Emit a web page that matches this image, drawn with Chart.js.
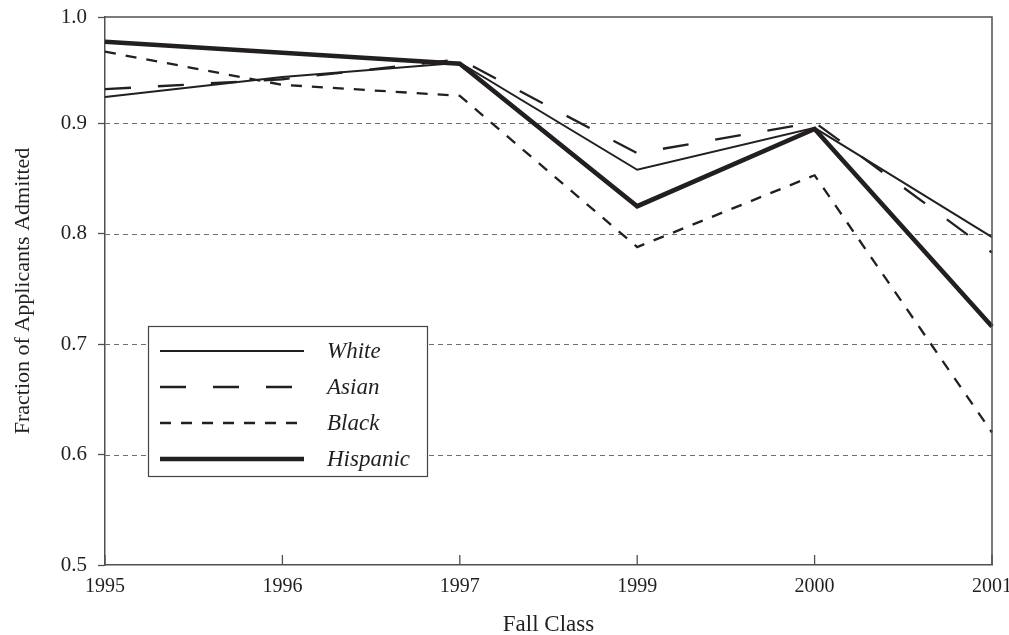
<!DOCTYPE html>
<html>
<head>
<meta charset="utf-8">
<script src="https://cdn.jsdelivr.net/npm/chart.js@4.4.1/dist/chart.umd.min.js"></script>
<style>
  html, body { margin: 0; padding: 0; background: #ffffff; }
  #wrap { position: relative; width: 1009px; height: 635px; }
</style>
</head>
<body>
<div id="wrap"><canvas id="c"></canvas></div>
<script>
// ---- data ----
const categories = ['1995', '1996', '1997', '1999', '2000', '2001'];
const seriesNames = ['White', 'Asian', 'Black', 'Hispanic'];
const whiteValues    = [0.924, 0.942, 0.955, 0.858, 0.896, 0.797];
const asianValues    = [0.931, 0.940, 0.958, 0.873, 0.901, 0.783];
const blackValues    = [0.965, 0.935, 0.925, 0.788, 0.853, 0.620];
const hispanicValues = [0.974, 0.964, 0.954, 0.825, 0.895, 0.716];
const yTickValues = [0.5, 0.6, 0.7, 0.8, 0.9, 0.9964];
const yTickLabels = ['0.5', '0.6', '0.7', '0.8', '0.9', '1.0'];
const gridValues = [0.6, 0.7, 0.8, 0.9];
const xTitle = 'Fall Class';
const yTitle = 'Fraction of Applicants Admitted';

const INK = '#231f20';
const AXIS = '#505050';
const SERIF = '"Liberation Serif", "Times New Roman", serif';

const styles = [
  { width: 2.0, dash: [] },
  { width: 2.3, dash: [26, 27] },
  { width: 2.3, dash: [11, 10] },
  { width: 4.6, dash: [] }
];
const seriesValues = [whiteValues, asianValues, blackValues, hispanicValues];

const datasets = seriesNames.map((name, i) => ({
  label: name,
  data: seriesValues[i],
  borderColor: INK,
  backgroundColor: INK,
  borderWidth: styles[i].width,
  borderDash: styles[i].dash,
  borderJoinStyle: 'miter',
  borderCapStyle: 'butt',
  pointRadius: 0,
  tension: 0,
  fill: false
})).reverse();

const decorPlugin = {
  id: 'decor',
  beforeDatasetsDraw(chart) {
    const { ctx, chartArea: a, scales } = chart;
    const y = scales.y;
    ctx.save();
    ctx.strokeStyle = '#6e6e6e';
    ctx.lineWidth = 1.1;
    ctx.setLineDash([5, 4]);
    gridValues.forEach(v => {
      const py = Math.round(y.getPixelForValue(v)) + 0.5;
      ctx.beginPath();
      ctx.moveTo(a.left, py);
      ctx.lineTo(a.right, py);
      ctx.stroke();
    });
    ctx.restore();
  },
  afterDatasetsDraw(chart) {
    const { ctx, chartArea: a, scales } = chart;
    const x = scales.x;
    ctx.save();
    ctx.strokeStyle = AXIS;
    ctx.lineWidth = 1.5;
    ctx.setLineDash([]);
    ctx.beginPath();
    ctx.moveTo(a.left, a.top);
    ctx.lineTo(a.right, a.top);
    ctx.lineTo(a.right, a.bottom);
    ctx.stroke();
    ctx.lineWidth = 1.3;
    categories.forEach((c, i) => {
      const px = x.getPixelForTick(i);
      ctx.beginPath();
      ctx.moveTo(px, a.bottom);
      ctx.lineTo(px, a.bottom - 10);
      ctx.stroke();
    });
    ctx.restore();
  },
  afterDraw(chart) {
    const { ctx } = chart;
    const box = { left: 148.5, top: 326.5, right: 427.5, bottom: 476.5 };
    const rows = [351, 387, 423, 459];
    ctx.save();
    ctx.fillStyle = '#ffffff';
    ctx.fillRect(box.left, box.top, box.right - box.left, box.bottom - box.top);
    ctx.strokeStyle = '#444444';
    ctx.lineWidth = 1.2;
    ctx.strokeRect(box.left, box.top, box.right - box.left, box.bottom - box.top);
    seriesNames.forEach((name, i) => {
      ctx.strokeStyle = INK;
      ctx.lineWidth = styles[i].width;
      ctx.setLineDash(styles[i].dash);
      ctx.beginPath();
      ctx.moveTo(160, rows[i]);
      ctx.lineTo(304, rows[i]);
      ctx.stroke();
      ctx.setLineDash([]);
      ctx.fillStyle = INK;
      ctx.font = 'italic 23px ' + SERIF;
      ctx.textAlign = 'left';
      ctx.textBaseline = 'middle';
      ctx.fillText(name, 327, rows[i] + 1);
    });
    ctx.restore();
  }
};

new Chart(document.getElementById('c'), {
  type: 'line',
  data: { labels: categories, datasets },
  plugins: [decorPlugin],
  options: {
    responsive: true,
    maintainAspectRatio: false,
    animation: false,
    events: [],
    layout: { padding: { left: 0, right: 17, top: 17, bottom: 0 } },
    plugins: { legend: { display: false }, tooltip: { enabled: false } },
    scales: {
      x: {
        type: 'category',
        offset: false,
        grid: { display: false, drawTicks: false },
        border: { display: true, color: AXIS, width: 1.5 },
        ticks: {
          color: INK, font: { family: SERIF, size: 20 }, padding: 10,
          maxRotation: 0, autoSkip: false
        },
        title: {
          display: true, text: xTitle, color: INK,
          font: { family: SERIF, size: 23, lineHeight: 0.9 }, padding: { top: 0, bottom: 0 }
        },
        afterFit(s) { s.height = 70; s.paddingLeft = 0; s.paddingRight = 0; }
      },
      y: {
        type: 'linear',
        min: 0.5,
        max: 0.9964,
        afterBuildTicks(s) { s.ticks = yTickValues.map(v => ({ value: v })); },
        grid: {
          drawOnChartArea: false, drawTicks: true, tickLength: 7,
          tickColor: AXIS, tickWidth: 1.3
        },
        border: { display: true, color: AXIS, width: 1.5 },
        ticks: {
          color: INK, font: { family: SERIF, size: 21 }, padding: 11,
          callback(value, index) { return yTickLabels[index]; }
        },
        title: {
          display: true, text: yTitle, color: INK,
          font: { family: SERIF, size: 22 }, padding: { top: 10, bottom: 0 }
        },
        afterFit(s) { s.width = 105; s.paddingTop = 0; s.paddingBottom = 0; }
      }
    }
  }
});
</script>
</body>
</html>
